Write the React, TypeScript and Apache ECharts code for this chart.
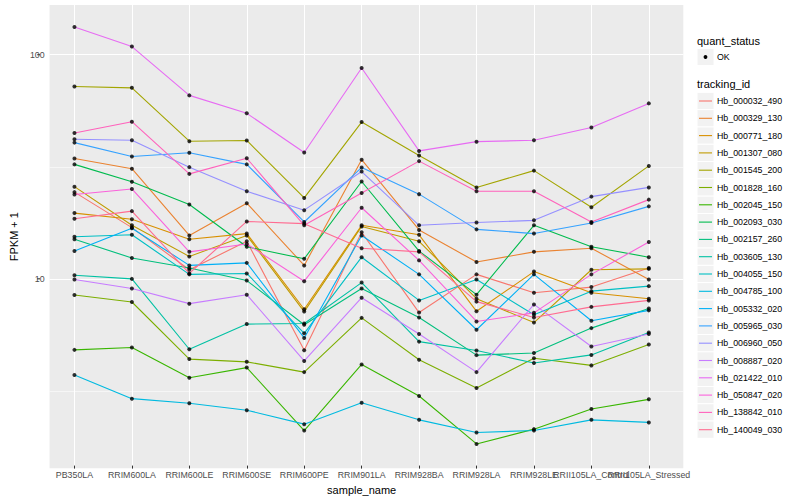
import React, { useEffect, useRef } from "react";
import * as echarts from "echarts";

const samples = [
  "PB350LA", "RRIM600LA", "RRIM600LE", "RRIM600SE", "RRIM600PE", "RRIM901LA",
  "RRIM928BA", "RRIM928LA", "RRIM928LE", "RRII105LA_Control", "RRII105LA_Stressed",
];

const trackingIds = [
  "Hb_000032_490", "Hb_000329_130", "Hb_000771_180", "Hb_001307_080", "Hb_001545_200",
  "Hb_001828_160", "Hb_002045_150", "Hb_002093_030", "Hb_002157_260", "Hb_003605_130",
  "Hb_004055_150", "Hb_004785_100", "Hb_005332_020", "Hb_005965_030", "Hb_006960_050",
  "Hb_008887_020", "Hb_021422_010", "Hb_050847_020", "Hb_138842_010", "Hb_140049_030",
];

const palette = [
  "#F8766D", "#EA8331", "#D89000", "#C09B00", "#A3A500", "#7CAE00", "#39B600", "#00BB4E",
  "#00BF7D", "#00C1A3", "#00BFC4", "#00BAE0", "#00B0F6", "#35A2FF", "#9590FF", "#C77CFF",
  "#E76BF3", "#FA62DB", "#FF62BC", "#FF6C91",
];

// FPKM + 1 per sample, in the order of `samples`
const hb_000032_490 = [24.1, 16.7, 10.8, 14.5, 4.7, 15.9, 6.94, 10.3, 8.52, 9.03, 11.0];
const hb_000329_130 = [34.1, 30.7, 15.4, 21.5, 11.3, 33.7, 16.3, 11.7, 13.0, 13.5, 9.76];
const hb_000771_180 = [19.4, 18.2, 14.8, 15.7, 7.18, 17.1, 15.5, 7.03, 10.6, 8.52, 8.01];
const hb_001307_080 = [25.5, 17.1, 12.4, 15.4, 7.01, 16.9, 14.5, 8.01, 6.26, 10.8, 10.9];
const hb_001545_200 = [71.8, 70.8, 40.8, 41.1, 22.7, 49.7, 35.2, 25.3, 30.1, 20.6, 31.6];
const hb_001828_160 = [8.32, 7.74, 4.29, 4.17, 3.75, 6.57, 4.26, 3.18, 4.33, 4.02, 4.99];
const hb_002045_150 = [4.72, 4.84, 3.54, 3.93, 2.05, 4.06, 2.93, 1.785, 2.08, 2.56, 2.83];
const hb_002093_030 = [32.1, 26.8, 21.2, 13.7, 12.1, 26.9, 13.1, 8.35, 17.1, 13.7, 12.3];
const hb_002157_260 = [14.8, 12.2, 11.0, 9.66, 6.12, 8.9, 6.6, 4.47, 4.57, 5.91, 7.23];
const hb_003605_130 = [10.2, 9.83, 4.75, 6.16, 6.2, 9.46, 5.14, 4.69, 4.12, 4.48, 5.65];
const hb_004055_150 = [15.2, 15.5, 10.3, 10.4, 5.6, 12.3, 7.87, 9.76, 6.78, 8.66, 9.12];
const hb_004785_100 = [3.64, 2.85, 2.72, 2.53, 2.19, 2.73, 2.29, 2.01, 2.05, 2.29, 2.23];
const hb_005332_020 = [13.1, 16.6, 11.3, 11.6, 5.34, 15.4, 10.3, 5.81, 10.3, 6.38, 7.1];
const hb_005965_030 = [40.2, 34.8, 36.2, 32.1, 17.7, 31.1, 23.6, 16.4, 15.7, 17.5, 20.8];
const hb_006960_050 = [41.6, 41.2, 31.2, 24.3, 20.0, 29.8, 17.1, 17.6, 18.0, 23.0, 25.3];
const hb_008887_020 = [9.76, 8.9, 7.61, 8.35, 4.21, 8.09, 5.56, 3.75, 7.55, 4.89, 5.56];
const hb_021422_010 = [132.7, 108.5, 65.5, 54.4, 36.3, 86.9, 36.9, 40.6, 41.2, 47.0, 60.3];
const hb_050847_020 = [23.5, 24.9, 13.0, 14.1, 9.6, 20.5, 11.9, 6.33, 6.92, 10.3, 14.4];
const hb_138842_010 = [44.4, 49.9, 29.1, 34.2, 17.1, 23.9, 33.2, 24.3, 24.3, 17.7, 22.3];
const hb_140049_030 = [18.3, 19.8, 10.4, 17.8, 17.4, 13.5, 13.0, 7.77, 6.6, 7.36, 7.87];

const seriesValues = [
  hb_000032_490, hb_000329_130, hb_000771_180, hb_001307_080, hb_001545_200,
  hb_001828_160, hb_002045_150, hb_002093_030, hb_002157_260, hb_003605_130,
  hb_004055_150, hb_004785_100, hb_005332_020, hb_005965_030, hb_006960_050,
  hb_008887_020, hb_021422_010, hb_050847_020, hb_138842_010, hb_140049_030,
];

const quantStatus = ["OK"];
const yMajorTicks = [10, 100];
const yMinorTicks = [Math.sqrt(10), Math.sqrt(1000)];
const Y_MIN = 1.427;
const Y_MAX = 166.7;

const FONT = "'Liberation Sans', Arial, Helvetica, sans-serif";

export default function App() {
  const ref = useRef<HTMLDivElement>(null);

  useEffect(() => {
    if (!ref.current) return;
    const chart = echarts.init(ref.current, undefined, { renderer: "svg" });

    const panel = { left: 40, top: 5, width: 643.3, height: 463.3 };
    const step = panel.width / (samples.length - 1 + 1.2);

    const lineSeries = trackingIds.map((id, i) => ({
      name: id,
      type: "line",
      xAxisIndex: 1,
      yAxisIndex: 1,
      data: seriesValues[i],
      showSymbol: false,
      symbol: "none",
      silent: true,
      z: 2,
      lineStyle: { color: palette[i], width: 1.1 },
      itemStyle: { color: palette[i] },
    }));

    const points: number[][] = [];
    seriesValues.forEach((vals) => vals.forEach((v, j) => points.push([j, v])));

    const gridLines = [
      ...yMajorTicks.map((v) => ({ yAxis: v, lineStyle: { color: "#FFFFFF", width: 1.07, type: "solid" } })),
      ...yMinorTicks.map((v) => ({ yAxis: v, lineStyle: { color: "#FFFFFF", width: 0.55, type: "solid" } })),
    ];

    chart.setOption({
      animation: false,
      backgroundColor: "#FFFFFF",
      textStyle: { fontFamily: FONT },
      grid: [
        { ...panel, show: true, backgroundColor: "#EBEBEB", borderWidth: 0 },
        {
          left: panel.left + 0.6 * step,
          top: panel.top,
          width: step * (samples.length - 1),
          height: panel.height,
          show: false,
        },
      ],
      xAxis: [
        { gridIndex: 0, type: "value", min: 0, max: 1, show: false },
        {
          gridIndex: 1,
          type: "category",
          data: samples,
          boundaryGap: false,
          axisLine: { show: false },
          axisTick: { show: true, length: 3, interval: 0, lineStyle: { color: "#333333", width: 1 } },
          axisLabel: {
            interval: 0,
            hideOverlap: false,
            fontSize: 8.8,
            color: "#4D4D4D",
            margin: 4.5,
            fontFamily: FONT,
          },
          splitLine: { show: true, interval: 0, lineStyle: { color: "#FFFFFF", width: 1.07 } },
          name: "sample_name",
          nameLocation: "middle",
          nameGap: 15,
          nameTextStyle: { fontSize: 11, color: "#000000", fontFamily: FONT },
        },
      ],
      yAxis: [
        {
          gridIndex: 0,
          type: "log",
          logBase: 10,
          min: Y_MIN,
          max: Y_MAX,
          axisLine: { show: false },
          axisTick: { show: false },
          splitLine: { show: false },
          axisLabel: {
            fontSize: 8.8,
            color: "#4D4D4D",
            margin: 5,
            fontFamily: FONT,
            showMinLabel: false,
            showMaxLabel: false,
            formatter: (v: number) => {
              const e = Math.log10(v);
              return Math.abs(e - Math.round(e)) < 1e-6 ? String(Math.round(v)) : "";
            },
          },
          name: "FPKM + 1",
          nameLocation: "middle",
          nameGap: 21,
          nameRotate: 90,
          nameTextStyle: { fontSize: 11, color: "#000000", fontFamily: FONT },
        },
        { gridIndex: 1, type: "log", logBase: 10, min: Y_MIN, max: Y_MAX, show: false },
      ],
      series: [
        {
          type: "line",
          xAxisIndex: 0,
          yAxisIndex: 0,
          data: [[0.5, 10]],
          showSymbol: false,
          symbol: "none",
          silent: true,
          z: 1,
          lineStyle: { opacity: 0, width: 0 },
          markLine: {
            silent: true,
            z: 1,
            symbol: ["none", "none"],
            label: { show: false },
            animation: false,
            data: gridLines,
          },
        },
        ...lineSeries,
        {
          type: "scatter",
          xAxisIndex: 1,
          yAxisIndex: 1,
          data: points,
          symbol: "circle",
          symbolSize: 4,
          silent: true,
          z: 3,
          itemStyle: { color: "#000000" },
        },
      ],
    });

    // y-axis tick marks at the labelled values
    const tickEls = yMajorTicks.map((v) => {
      const y = chart.convertToPixel({ yAxisIndex: 0 }, v) as number;
      return {
        type: "line",
        shape: { x1: panel.left - 2.8, y1: y, x2: panel.left, y2: y },
        style: { stroke: "#333333", lineWidth: 1.07 },
        silent: true,
        z: 10,
      };
    });

    // legend (ggplot-style)
    const lx = 697;
    const keySize = 17;
    const legendEls: any[] = [];
    legendEls.push({
      type: "text",
      x: lx,
      y: 40.7,
      style: { text: "quant_status", fontSize: 11, fontFamily: FONT, fill: "#000000", textAlign: "left", textVerticalAlign: "middle" },
      z: 10,
    });
    quantStatus.forEach((q, i) => {
      const cy = 57 + i * 17.3;
      legendEls.push({
        type: "rect",
        shape: { x: lx, y: cy - keySize / 2, width: keySize, height: keySize },
        style: { fill: "#F2F2F2", stroke: "#FFFFFF", lineWidth: 1 },
        z: 10,
      });
      legendEls.push({
        type: "circle",
        shape: { cx: lx + keySize / 2, cy, r: 1.9 },
        style: { fill: "#000000" },
        z: 11,
      });
      legendEls.push({
        type: "text",
        x: lx + 20,
        y: cy,
        style: { text: q, fontSize: 8.8, fontFamily: FONT, fill: "#000000", textAlign: "left", textVerticalAlign: "middle" },
        z: 10,
      });
    });
    legendEls.push({
      type: "text",
      x: lx,
      y: 84.3,
      style: { text: "tracking_id", fontSize: 11, fontFamily: FONT, fill: "#000000", textAlign: "left", textVerticalAlign: "middle" },
      z: 10,
    });
    trackingIds.forEach((id, i) => {
      const cy = 101 + i * 17.3;
      legendEls.push({
        type: "rect",
        shape: { x: lx, y: cy - 17.3 / 2, width: keySize, height: 17.3 },
        style: { fill: "#F2F2F2", stroke: "#FFFFFF", lineWidth: 1 },
        z: 10,
      });
      legendEls.push({
        type: "line",
        shape: { x1: lx + 2, y1: cy, x2: lx + keySize - 2, y2: cy },
        style: { stroke: palette[i], lineWidth: 1.1 },
        z: 11,
      });
      legendEls.push({
        type: "text",
        x: lx + 20,
        y: cy,
        style: { text: id, fontSize: 8.8, fontFamily: FONT, fill: "#000000", textAlign: "left", textVerticalAlign: "middle" },
        z: 10,
      });
    });

    chart.setOption({ graphic: { elements: [...tickEls, ...legendEls] } });

    return () => {
      chart.dispose();
    };
  }, []);

  return (
    <div
      ref={ref}
      style={{ position: "fixed", left: 0, top: 0, width: "800px", height: "500px", background: "#FFFFFF" }}
    />
  );
}
